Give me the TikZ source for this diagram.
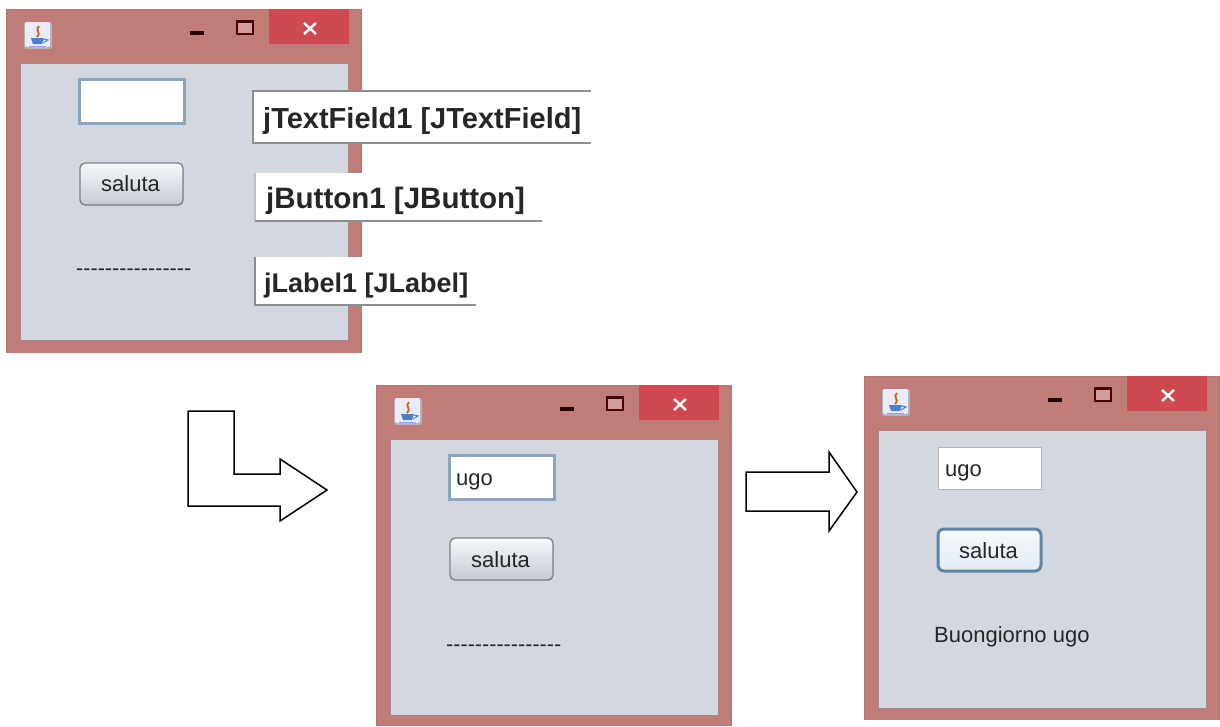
\documentclass[tikz,border=0pt]{standalone}
\usepackage{fontspec}
\setmainfont{Liberation Sans}
\definecolor{frame}{HTML}{C07C76}
\definecolor{frameedge}{HTML}{B47470}
\definecolor{panelline}{HTML}{A88A8C}
\definecolor{closered}{HTML}{CF4A50}
\definecolor{panel}{HTML}{D3D8E0}
\definecolor{fieldblue}{HTML}{8BA5BF}
\definecolor{tagline}{HTML}{8E8E90}
\definecolor{btnedge}{HTML}{7F8288}
\definecolor{focusblue}{HTML}{5F84A6}
\definecolor{btnlow}{HTML}{C6CAD3}
\definecolor{btnhigh}{HTML}{F6F8FB}
\definecolor{focuslow}{HTML}{E2ECF6}
\newcommand{\dashrow}{-{}-{}-{}-{}-{}-{}-{}-{}-{}-{}-{}-{}-{}-{}-{}-}
\tikzset{
  x=1pt,y=-1pt,
  windowframe/.style={fill=frame},
  contentpanel/.style={fill=panel,draw=panelline,line width=.7pt},
  txt/.style={inner sep=0pt,anchor=base west,text=black!85},
  uitext/.style={txt,font=\fontsize{22}{24}\selectfont},
  dashtext/.style={txt,font=\fontsize{21.6}{24}\selectfont},
  tagtext/.style={txt,font=\bfseries\fontsize{#1}{30}\selectfont},
  tagfill/.style={fill=white,draw=none},
  tagedge/.style={draw=tagline,line width=2.2pt},
  bigarrow/.style={fill=white,draw=black,line width=1.5pt,line join=miter},
  field/.style={fill=white,draw=fieldblue,line width=3pt},
  plainfield/.style={fill=white,draw=black!30,line width=1pt},
  button/.style={draw=btnedge,line width=1.4pt,rounded corners=5pt,top color=btnhigh,bottom color=btnlow},
  focusbutton/.style={draw=focusblue,line width=3pt,rounded corners=6pt,top color=btnhigh,bottom color=focuslow},
}
% #1 x-shift, #2 y-shift, #3 local window bottom, #4 local panel bottom
\newcommand{\appwin}[4]{%
  \begin{scope}[shift={(#1,#2)}]
    \fill[windowframe] (6,9) rectangle (361,#3);
    \draw[frameedge,line width=1pt] (6,#3) -- (6,9) -- (361,9) -- (361,#3);
    \fill[closered] (269,9) rectangle (349,44);
    \draw[white,line width=2.4pt] (304,23) -- (316,34) (316,23) -- (304,34);
    \draw[black!85!red,line width=3.2pt] (190,33) -- (204,33);
    \fill[frame!75!white] (237,21) rectangle (253,34);
    \draw[black!70!red,line width=1.3pt] (237,21) rectangle (253,34);
    \draw[black!70!red,line width=2.4pt] (237,22) -- (253,22);
    \fill[black!30,rounded corners=2pt] (24,22) rectangle (52,49);
    \fill[white!92!blue,rounded corners=2pt] (25,22) rectangle (50,47);
    \draw[orange!80!black,line width=1.8pt] (39,26) .. controls (34,30) and (42,32) .. (37,37);
    \fill[teal!55!blue!70!white] (31,38) -- (44,38) -- (42,44) -- (33,44) -- cycle;
    \draw[teal!55!blue!70!white,line width=1pt] (44,39) -- (48,40) -- (43,43);
    \draw[blue!40!white,line width=1pt] (29,46) -- (46,46);
    \fill[contentpanel] (20,63) rectangle (348,#4);
  \end{scope}}
\begin{document}
\begin{tikzpicture}
\useasboundingbox (0,0) rectangle (1220,726);
\fill[white] (0,0) rectangle (1220,726);

% Window 1
\appwin{0}{0}{353}{340}
\fill[field] (79,79) rectangle (184,123);
\fill[button] (80,163) rectangle (183,205);
\node[uitext] (btnA) at (101,191) {saluta};
\node[dashtext] (lblA) at (76,275) {\dashrow};

% Tags
\fill[tagfill] (252,90) rectangle (591,144);
\draw[tagedge] (591,91) -- (253,91) -- (253,144);
\draw[tagedge] (253,143) -- (591,143);
\node[tagtext=29] (tagA) at (263,128) {jTextField1 [JTextField]};
\fill[tagfill] (254,173) rectangle (542,222);
\draw[draw=black!25,line width=2pt] (255,173) -- (255,222);
\draw[tagedge] (255,221) -- (542,221);
\node[tagtext=29.5] (tagB) at (266,208) {jButton1 [JButton]};
\fill[tagfill] (254,257) rectangle (476,306);
\draw[tagedge,line width=1.6pt] (255,257) -- (255,306);
\draw[tagedge,line width=1.6pt] (255,305) -- (476,305);
\node[tagtext=27] (tagC) at (264,292) {jLabel1 [JLabel]};

% Arrows
\draw[bigarrow] (188,411) -- (234,411) -- (234,474) -- (280,474) -- (280,459) -- (327,490) -- (280,521) -- (280,506) -- (188,506) -- cycle;
\draw[bigarrow] (746,472) -- (829,472) -- (829,452) -- (857,492) -- (829,531) -- (829,511) -- (746,511) -- cycle;

% Window 2
\appwin{370}{376}{350}{339.5}
\fill[field] (449,455) rectangle (554,499);
\node[uitext] (fieldB) at (456,485) {ugo};
\fill[button] (450,538) rectangle (553,580);
\node[uitext] (btnB) at (471,567) {saluta};
\node[dashtext] (lblB) at (446,651) {\dashrow};

% Window 3
\appwin{858}{367}{353}{341}
\fill[plainfield] (938,447) rectangle (1041,489);
\node[uitext] (fieldC) at (945,476) {ugo};
\fill[focusbutton] (938,529) rectangle (1041,571);
\node[uitext] (btnC) at (959,558) {saluta};
\node[uitext] (lblC) at (934,642) {Buongiorno ugo};
\end{tikzpicture}
\end{document}
